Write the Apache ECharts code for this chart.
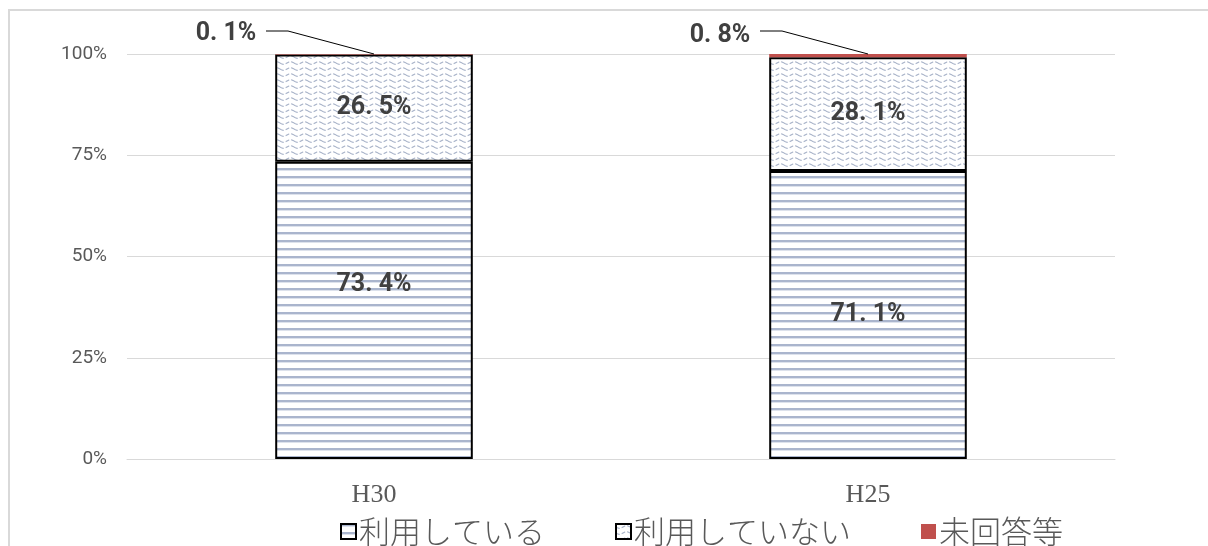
<!DOCTYPE html>
<html>
<head>
<meta charset="utf-8">
<script src="https://cdn.jsdelivr.net/npm/echarts@6/dist/echarts.min.js"></script>
<style>
html,body{margin:0;padding:0;background:#fff;}
#chart{width:1208px;height:546px;}
</style>
</head>
<body>
<div id="chart"></div>
<script>
// ---- data ----
const categories = ['H30', 'H25'];
const seriesNames = ['利用している', '利用していない', '未回答等'];
const usingValues = [73.4, 71.1];
const notUsingValues = [26.5, 28.1];
const noAnswerValues = [0.1, 0.8];
const yTicks = [0, 25, 50, 75, 100];

// ---- patterns ----
function hLinePattern() {
  const c = document.createElement('canvas');
  c.width = 8; c.height = 8;
  const g = c.getContext('2d');
  g.fillStyle = '#ffffff'; g.fillRect(0, 0, 8, 8);
  g.fillStyle = '#aab5cd'; g.fillRect(0, 0, 8, 2);
  g.fillStyle = '#dde2ec'; g.fillRect(0, 2, 8, 1);
  return c;
}
function wavePattern() {
  const w = 14, h = 6;
  const c = document.createElement('canvas');
  c.width = w; c.height = h;
  const g = c.getContext('2d');
  g.fillStyle = '#ffffff'; g.fillRect(0, 0, w, h);
  g.strokeStyle = '#a7b2c8'; g.lineWidth = 1.2;
  g.setLineDash([4, 2]);
  g.beginPath();
  for (let x = 0; x <= w; x += 0.5) {
    const y = 3 + 1.3 * Math.sin(2 * Math.PI * x / w);
    if (x === 0) g.moveTo(x, y); else g.lineTo(x, y);
  }
  g.stroke();
  return c;
}

const chart = echarts.init(document.getElementById('chart'), null, {renderer: 'canvas'});
const fmt = p => p.value.toFixed(1).replace('.', '. ') + '%';
const labelFont = {
  fontFamily: 'Roboto, sans-serif',
  fontWeight: 'bold', fontSize: 25, color: '#404040'
};
// label offset for the lower segment of each bar (style only)
const lowerLabelOffsets = [[0, -26], [0, 0]];

const option = {
  animation: false,
  grid: {left: 127, right: 93, top: 54, bottom: 87, containLabel: false},
  legend: {
    data: seriesNames.map(n => ({name: n, icon: 'rect'})),
    left: 335, top: 511,
    itemWidth: 15, itemHeight: 15, itemGap: 70,
    textStyle: {fontFamily: '"Noto Sans CJK JP", sans-serif', fontWeight: 300, fontSize: 31, color: '#595959', padding: [0, 0, 0, -2]}
  },
  xAxis: {
    type: 'category', data: categories,
    axisLine: {lineStyle: {color: '#d9d9d9', width: 1}},
    axisTick: {show: false},
    axisLabel: {margin: 23, fontFamily: '"Liberation Serif", "DejaVu Serif", serif', fontSize: 26, color: '#595959'}
  },
  yAxis: {
    type: 'value', min: yTicks[0], max: yTicks[yTicks.length - 1], interval: 25,
    axisLine: {show: false}, axisTick: {show: false},
    splitLine: {lineStyle: {color: '#d9d9d9', width: 1}},
    axisLabel: {margin: 20, formatter: '{value}%', fontFamily: 'Roboto, sans-serif', fontSize: 19, color: '#595959'}
  },
  series: [
    {
      name: seriesNames[0], type: 'bar', stack: 'total', barWidth: '40%',
      data: usingValues.map((v, i) => ({value: v, label: {offset: lowerLabelOffsets[i]}})),
      itemStyle: {color: {image: hLinePattern(), repeat: 'repeat'}, borderColor: '#000', borderWidth: 2},
      label: Object.assign({show: true, position: 'inside', formatter: fmt}, labelFont)
    },
    {
      name: seriesNames[1], type: 'bar', stack: 'total',
      data: notUsingValues,
      itemStyle: {color: {image: wavePattern(), repeat: 'repeat'}, borderColor: '#000', borderWidth: 2},
      label: Object.assign({show: true, position: 'inside', formatter: fmt}, labelFont)
    },
    {
      name: seriesNames[2], type: 'bar', stack: 'total',
      data: noAnswerValues,
      itemStyle: {color: '#c0504d', borderWidth: 0},
      label: Object.assign({show: true, position: 'inside', formatter: fmt}, labelFont),
      labelLayout: {dx: -148, dy: -20}
    }
  ]
};
chart.setOption(option);

// leader lines and frame
function drawExtras() {
  const elements = [];
  categories.forEach((c, i) => {
    const top = chart.convertToPixel({gridIndex: 0}, [c, 100]);
    elements.push({
      type: 'polyline', silent: true,
      shape: {points: [[top[0] - 108, top[1] - 23], [top[0] - 86, top[1] - 23], [top[0], top[1]]]},
      style: {stroke: '#000', lineWidth: 1, fill: null}, z: 10
    });
  });
  elements.push({type: 'polyline', silent: true, shape: {points: [[9, 546], [9, 10], [1208, 10]]}, style: {stroke: '#d9d9d9', lineWidth: 2, fill: null}});
  chart.setOption({graphic: {elements: elements}});
}
drawExtras();
</script>
</body>
</html>
